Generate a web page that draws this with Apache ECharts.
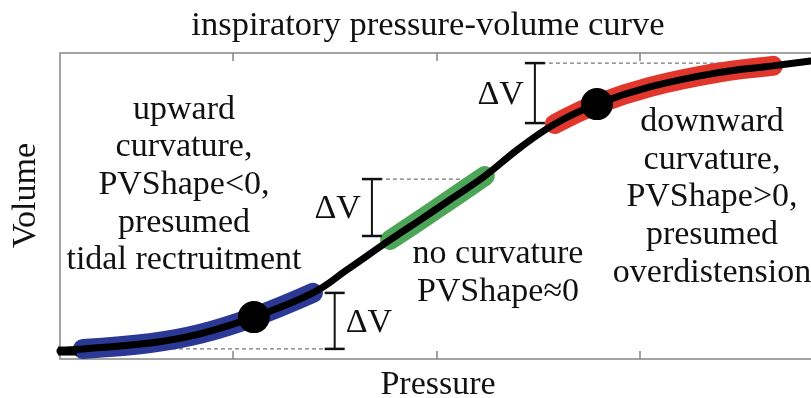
<!DOCTYPE html>
<html>
<head>
<meta charset="utf-8">
<script src="https://cdn.jsdelivr.net/npm/echarts@6/dist/echarts.min.js"></script>
<style>
  html, body { margin: 0; padding: 0; background: #fff; }
  #chart { width: 811px; height: 398px; }
</style>
</head>
<body>
<div id="chart"></div>
<script>
// Inspiratory pressure-volume curve (arbitrary units)
const pressure = [1.5, 2.63, 5.92, 8.38, 11.03, 13.93, 15.6, 17.72, 19.19, 20.66, 22.38, 24.1, 25.82, 27.89, 30.49, 33.78, 36.54, 38.4];
const volume   = [2.6, 3.3, 5.2, 8.2, 13.7, 21.6, 29.1, 38.9, 45.4, 52.0, 59.8, 69.0, 76.8, 83.3, 88.9, 93.5, 95.8, 97.4];

// Index ranges (inclusive) of the highlighted stretches of the curve
const segUpward = [1, 5];
const segLinear = [7, 10];
const segDownward = [12, 16];
// Indices of the marked inflection points
const markedPoints = [4, 13];

// ΔV brackets: pressure position, lower and upper volume, label side (+1 right, -1 left)
const dvPressure = [15.0, 16.83, 24.84];
const dvLow = [3.3, 40.2, 77.1];
const dvHigh = [21.6, 58.8, 96.7];
const dvSide = [1, -1, -1];
// Dashed guides: from pressure, to pressure, at volume
const guideFrom = [1.5, 16.83, 24.84];
const guideTo = [15.0, 22.38, 36.54];
const guideLevel = [3.3, 58.8, 96.7];

const xTicks = [10, 20, 30];

const SERIF = '"Liberation Serif", "Times New Roman", serif';
const GREY = '#858585';

const curve = pressure.map((p, i) => [p, volume[i]]);
const slice = r => curve.slice(r[0], r[1] + 1);

function band(name, range, color) {
  return {
    name, type: 'line', data: slice(range), smooth: 0.4, symbol: 'none', z: 2,
    lineStyle: { color, width: 20, cap: 'round', join: 'round' },
    silent: true, animation: false
  };
}

const guides = guideFrom.map((f, i) => ({
  type: 'line', data: [[f, guideLevel[i]], [guideTo[i], guideLevel[i]]],
  symbol: 'none', z: 1, silent: true, animation: false,
  lineStyle: { color: '#777', width: 1.2, type: [4, 3] }
}));

const chart = echarts.init(document.getElementById('chart'), null, { renderer: 'canvas' });

chart.setOption({
  animation: false,
  backgroundColor: '#fff',
  grid: {
    left: 60, top: 53, width: 763, height: 306,
    outerBoundsMode: 'none', containLabel: false,
    show: true, borderColor: GREY, borderWidth: 1.5, backgroundColor: 'transparent'
  },
  xAxis: [
    {
      type: 'value', min: 1.5, max: 39, position: 'bottom',
      axisLine: { show: false },
      axisTick: { show: true, inside: true, length: 8, customValues: xTicks, lineStyle: { color: GREY, width: 1.5 } },
      axisLabel: { show: false }, splitLine: { show: false }
    },
    {
      type: 'value', min: 1.5, max: 39, position: 'top',
      axisLine: { show: false },
      axisTick: { show: true, inside: true, length: 8, customValues: xTicks, lineStyle: { color: GREY, width: 1.5 } },
      axisLabel: { show: false }, splitLine: { show: false }
    }
  ],
  yAxis: {
    type: 'value', min: 0, max: 100,
    axisLine: { show: false }, axisTick: { show: false },
    axisLabel: { show: false }, splitLine: { show: false }
  },
  series: [
    ...guides,
    band('upward', segUpward, '#2b3896'),
    band('linear', segLinear, '#4da658'),
    band('downward', segDownward, '#e0362c'),
    {
      name: 'curve', type: 'line', data: curve, smooth: 0.4, symbol: 'none', z: 3,
      lineStyle: { color: '#000', width: 7, cap: 'round' },
      silent: true, animation: false
    },
    {
      name: 'start', type: 'scatter', data: [[1.87, 2.6]], symbol: 'rect', symbolSize: [19, 9], z: 4,
      itemStyle: { color: '#000', opacity: 1 }, silent: true
    },
    {
      name: 'points', type: 'scatter', data: markedPoints.map(i => curve[i]),
      symbol: 'circle', symbolSize: 32, z: 5,
      itemStyle: { color: '#000', opacity: 1 }, silent: true
    },
    {
      name: 'dV', type: 'custom', z: 6, silent: true,
      data: dvPressure.map((p, i) => [p, dvLow[i], dvHigh[i], dvSide[i]]),
      renderItem: (params, api) => {
        const p = api.value(0), lo = api.value(1), hi = api.value(2), side = api.value(3);
        const a = api.coord([p, lo]);
        const b = api.coord([p, hi]);
        const half = 10;
        const st = { stroke: '#111', lineWidth: 2.5 };
        const cy = (a[1] + b[1]) / 2 + 2;
        return {
          type: 'group',
          children: [
            { type: 'line', shape: { x1: a[0], y1: a[1], x2: b[0], y2: b[1] }, style: { stroke: '#111', lineWidth: 2 } },
            { type: 'line', shape: { x1: a[0] - half, y1: a[1], x2: a[0] + half, y2: a[1] }, style: st },
            { type: 'line', shape: { x1: b[0] - half, y1: b[1], x2: b[0] + half, y2: b[1] }, style: st },
            {
              type: 'text', x: a[0] + side * 11, y: cy,
              style: {
                text: 'ΔV', font: '34px ' + SERIF, fill: '#111',
                align: side > 0 ? 'left' : 'right', verticalAlign: 'middle'
              }
            }
          ]
        };
      }
    }
  ],
  graphic: [
    {
      type: 'text', x: 428, y: 26,
      style: { text: 'inspiratory pressure-volume curve', font: '34.5px ' + SERIF, fill: '#111', align: 'center', verticalAlign: 'middle' }
    },
    {
      type: 'text', x: 184, y: 185, z: 10,
      style: {
        text: 'upward\ncurvature,\nPVShape<0,\npresumed\ntidal rectruitment',
        font: '34px ' + SERIF, lineHeight: 37.7, fill: '#111', align: 'center', verticalAlign: 'middle'
      }
    },
    {
      type: 'text', x: 498, y: 273, z: 10,
      style: {
        text: 'no curvature\nPVShape≈0',
        font: '34px ' + SERIF, lineHeight: 38, fill: '#111', align: 'center', verticalAlign: 'middle'
      }
    },
    {
      type: 'text', x: 712, y: 197.5, z: 10,
      style: {
        text: 'downward\ncurvature,\nPVShape>0,\npresumed\noverdistension',
        font: '34px ' + SERIF, lineHeight: 37.7, fill: '#111', align: 'center', verticalAlign: 'middle'
      }
    },
    {
      type: 'text', x: 26, y: 195.5, rotation: Math.PI / 2,
      style: { text: 'Volume', font: '34px ' + SERIF, fill: '#111', align: 'center', verticalAlign: 'middle' }
    },
    {
      type: 'text', x: 438, y: 385,
      style: { text: 'Pressure', font: '34px ' + SERIF, fill: '#111', align: 'center', verticalAlign: 'middle' }
    }
  ]
});
</script>
</body>
</html>
